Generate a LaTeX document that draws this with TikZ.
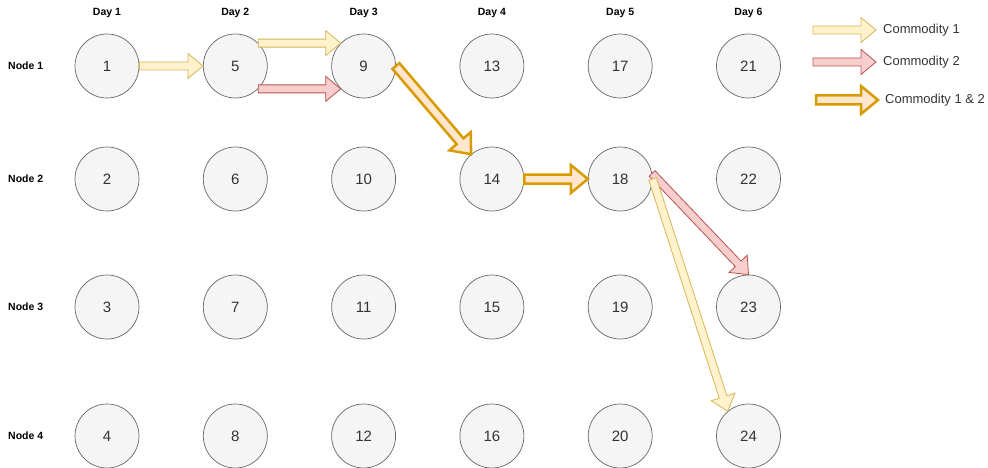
\documentclass[tikz,border=0pt]{standalone}
\usepackage{fontspec}
\setmainfont{Liberation Sans}
\usetikzlibrary{calc}

\definecolor{circfill}{HTML}{F5F5F5}
\definecolor{circline}{HTML}{666666}
\definecolor{circtext}{HTML}{333333}
\definecolor{oneFill}{HTML}{FFF2CC}
\definecolor{oneLine}{HTML}{D6B656}
\definecolor{twoFill}{HTML}{F8CECC}
\definecolor{twoLine}{HTML}{B85450}
\definecolor{bothFill}{HTML}{FFE6CC}
\definecolor{bothLine}{HTML}{D79B00}

\tikzset{
  fa shaft/.store in=\fashaft, fa shaft=4pt,
  fa wing/.store in=\fawing, fa wing=12pt,
  fa head/.store in=\fahead, fa head=15pt
}

% block arrow from #2 to #3
\newcommand{\flowarrow}[3]{%
  \path[#1] ($(#3)!\fahead!(#2)$) coordinate (fa-h);
  \draw[#1] ($(#2)!\fashaft!90:(#3)$) -- ($(fa-h)!\fashaft!90:(#3)$)
    -- ($(fa-h)!\fawing!90:(#3)$) -- (#3) -- ($(fa-h)!\fawing!-90:(#3)$)
    -- ($(fa-h)!\fashaft!-90:(#3)$) -- ($(#2)!\fashaft!-90:(#3)$) -- cycle;
}

\begin{document}
\begin{tikzpicture}[
  x=1pt,y=-1pt,
  timenode/.style={circle,draw=circline,fill=circfill,line width=0.7pt,minimum size=64pt,inner sep=0pt,text=circtext,font=\fontsize{15}{17}\selectfont},
  daylabel/.style={font=\bfseries\fontsize{10.5}{12}\selectfont},
  rowlabel/.style={anchor=west,inner sep=0pt,font=\bfseries\fontsize{10.5}{12}\selectfont},
  legendtext/.style={anchor=west,inner xsep=7pt,inner ysep=0pt,font=\fontsize{13}{15}\selectfont,text=circtext},
  comone/.style={draw=oneLine,fill=oneFill,line width=0.8pt,fa shaft=4pt,fa wing=12.5pt,fa head=15pt},
  comtwo/.style={draw=twoLine,fill=twoFill,line width=0.8pt,fa shaft=4pt,fa wing=12.5pt,fa head=15pt},
  comboth/.style={draw=bothLine,fill=bothFill,line width=2.5pt,fa shaft=4.5pt,fa wing=14pt,fa head=17pt}
]
\useasboundingbox (0,0) rectangle (988,468);

\foreach \d in {1,...,6}
  \node[daylabel] (day\d) at ({107+128.3*(\d-1)},13) {Day \d};

\foreach \r/\y in {1/66,2/179,3/307,4/436} {
  \node[rowlabel] (row\r) at (8,\y) {Node \r};
  \foreach \d in {1,...,6} {
    \pgfmathtruncatemacro\k{4*(\d-1)+\r}
    \node[timenode] (n\k) at ({107+128.3*(\d-1)},\y) {\k};
  }
}

% flows
\flowarrow{comone}{n1.east}{n5.west}
\flowarrow{comone}{n5.45}{n9.135}
\flowarrow{comtwo}{n5.-45}{n9.-135}
\flowarrow{comboth}{n9.east}{n14.130}
\flowarrow{comboth}{n14.east}{n18.west}
\flowarrow{comtwo}{n18.10}{n23.north}
\flowarrow{comone}{n18.east}{n24.130}

% legend
\node[legendtext] (lg1) at (876,30) {Commodity 1};
\node[legendtext] (lg2) at (876,62) {Commodity 2};
\node[legendtext] (lg3) at (878,100) {Commodity 1 \& 2};
\coordinate (lg1s) at (813,30);
\coordinate (lg2s) at (813,62);
\coordinate (lg3s) at (816,100);
\flowarrow{comone}{lg1s}{lg1.west}
\flowarrow{comtwo}{lg2s}{lg2.west}
\flowarrow{comboth}{lg3s}{lg3.west}
\end{tikzpicture}
\end{document}
